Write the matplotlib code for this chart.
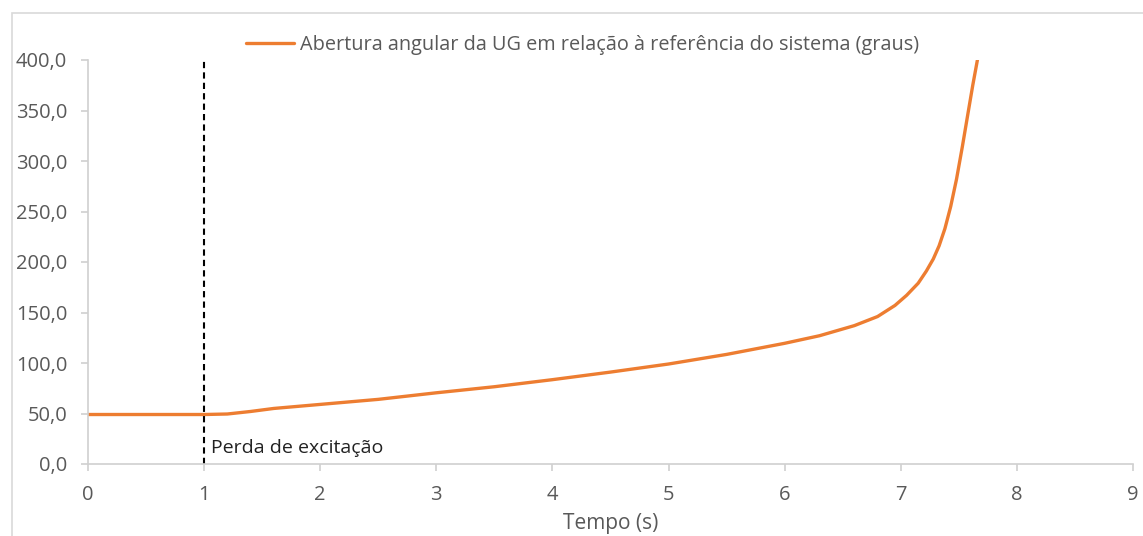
import numpy as np
import matplotlib.pyplot as plt
from matplotlib.patches import Rectangle

# --- DATA ---
tempo = [0.0, 0.5, 1.0, 1.2, 1.4, 1.6, 1.8, 2.0, 2.5, 3.0, 3.5, 4.0, 4.5,
         5.0, 5.5, 6.0, 6.3, 6.6, 6.8, 6.95, 7.05, 7.15, 7.22, 7.28, 7.33,
         7.38, 7.43, 7.48, 7.53, 7.58, 7.62, 7.66]
angulo = [49.0, 49.0, 49.0, 49.5, 52.0, 55.0, 57.0, 59.0, 64.0, 70.5, 76.5,
          83.5, 91.0, 99.0, 108.5, 119.5, 127.0, 137.0, 146.0, 157.0, 167.0,
          179.0, 191.0, 203.0, 216.0, 233.0, 255.0, 282.0, 314.0, 348.0,
          375.0, 400.0]
serie_label = "Abertura angular da UG em relação à referência do sistema (graus)"
evento_x = 1.0
evento_label = "Perda de excitação"
xticks = list(range(0, 10))
yticks = [0, 50, 100, 150, 200, 250, 300, 350, 400]

plt.rcParams['font.family'] = ['Open Sans', 'DejaVu Sans']

fig = plt.figure(figsize=(11.43, 5.36), dpi=100)
ax = fig.add_axes([88/1143, 1 - 464/536, (1133 - 88)/1143, (464 - 60)/536])

# chart border like Excel
fig.patches.append(Rectangle((12/1143, -0.1), 1.2, 1 - 13/536 + 0.1,
                             transform=fig.transFigure, fill=False,
                             edgecolor='#d9d9d9', lw=1.2))

ax.plot(tempo, angulo, color='#ED7D31', lw=2.4, label=serie_label,
        solid_capstyle='round', solid_joinstyle='round')
ax.plot([evento_x, evento_x], [0, 400], color='black', lw=1.5,
        linestyle=(0, (3, 2)))
ax.text(evento_x + 0.06, 16, evento_label, fontsize=14, color='#222222',
        va='center', ha='left')

ax.set_xlim(0, 9)
ax.set_ylim(0, 400)
ax.set_xticks(xticks)
ax.set_yticks(yticks)
ax.set_yticklabels([f"{v:.1f}".replace('.', ',') for v in yticks])
for s in ['top', 'right']:
    ax.spines[s].set_visible(False)
for s in ['left', 'bottom']:
    ax.spines[s].set_color('#d0d0d0')
    ax.spines[s].set_linewidth(1.2)
ax.tick_params(colors='#d0d0d0', labelcolor='#595959', labelsize=14.5,
               length=5, width=1.2)
ax.tick_params(axis='y', pad=10)
ax.tick_params(axis='x', pad=10)
ax.set_xlabel('Tempo (s)', fontsize=15, color='#595959', labelpad=6)

leg = ax.legend(loc='center left', bbox_to_anchor=(228/1143, 1 - 45/536),
                bbox_transform=fig.transFigure, frameon=False,
                fontsize=14.3, handlelength=2.4, handletextpad=0.35)
for t in leg.get_texts():
    t.set_color('#595959')

plt.savefig('out.png', dpi=100)
